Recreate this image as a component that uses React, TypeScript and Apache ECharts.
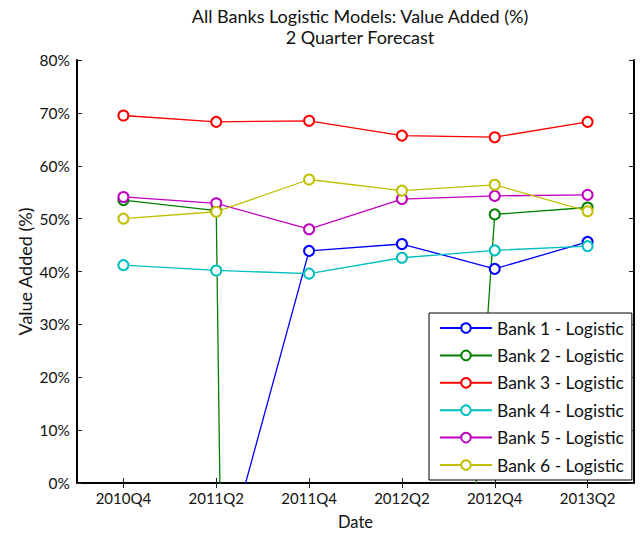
import React, { useEffect, useRef } from "react";
import * as echarts from "echarts";

const categories = ["2010Q4", "2011Q2", "2011Q4", "2012Q2", "2012Q4", "2013Q2"];

const bank1 = [null, -20.3, 43.9, 45.2, 40.5, 45.6];
const bank2 = [53.5, 51.5, -1270, -203, 50.8, 52.1];
const bank3 = [69.5, 68.3, 68.5, 65.7, 65.4, 68.3];
const bank4 = [41.2, 40.2, 39.6, 42.6, 44.0, 44.8];
const bank5 = [54.1, 52.9, 48.0, 53.7, 54.3, 54.5];
const bank6 = [50.0, 51.3, 57.4, 55.3, 56.4, 51.4];

const seriesNames = [
  "Bank 1 - Logistic",
  "Bank 2 - Logistic",
  "Bank 3 - Logistic",
  "Bank 4 - Logistic",
  "Bank 5 - Logistic",
  "Bank 6 - Logistic",
];
const seriesData = [bank1, bank2, bank3, bank4, bank5, bank6];
const colors = ["#0000ff", "#008000", "#ff0000", "#00bfbf", "#bf00bf", "#bfbf00"];

const FONT = "Lato";

export default function App() {
  const ref = useRef<HTMLDivElement>(null);
  useEffect(() => {
    if (!ref.current) return;
    const chart = echarts.init(ref.current, null, { renderer: "svg" });
    const axisLine = { show: true, lineStyle: { color: "#000", width: 2 } };
    const tick = { show: true, inside: true, length: 5, lineStyle: { color: "#222", width: 1 } };
    chart.setOption({
      animation: false,
      backgroundColor: "#fff",
      title: {
        text: "All Banks Logistic Models: Value Added (%)\n2 Quarter Forecast",
        left: 355,
        top: 0,
        textAlign: "center",
        textStyle: { fontFamily: FONT, fontSize: 18, fontWeight: "normal", color: "#111", lineHeight: 21 },
      },
      grid: { left: 77, right: 7, top: 60, bottom: 52, containLabel: false },
      legend: {
        orient: "vertical",
        left: 429,
        top: 313,
        data: seriesNames,
        backgroundColor: "#fff",
        borderColor: "#000",
        borderWidth: 1,
        padding: [6, 8, 6, 10],
        itemWidth: 52,
        itemHeight: 12,
        itemGap: 9.4,
        textStyle: { fontFamily: FONT, fontSize: 17.5, lineHeight: 18, color: "#111" },
      },
      xAxis: [
        {
          type: "category",
          data: categories,
          boundaryGap: true,
          position: "bottom",
          axisLine,
          axisTick: { ...tick, alignWithLabel: true },
          axisLabel: { fontFamily: FONT, fontSize: 15, color: "#111", margin: 7 },
          splitLine: { show: false },
          name: "Date",
          nameLocation: "middle",
          nameGap: 30,
          nameTextStyle: { fontFamily: FONT, fontSize: 16.5, color: "#111" },
        },
        {
          type: "category",
          data: categories,
          boundaryGap: true,
          position: "top",
          axisLine: { show: true, lineStyle: { color: "#000", width: 1 } },
          axisTick: { ...tick, alignWithLabel: true },
          axisLabel: { show: false },
          splitLine: { show: false },
        },
      ],
      yAxis: [
        {
          type: "value",
          min: 0,
          max: 80,
          interval: 10,
          position: "left",
          axisLine,
          axisTick: tick,
          axisLabel: {
            fontFamily: FONT,
            fontSize: 15.5,
            color: "#111",
            margin: 7,
            formatter: (v: number) => `${v}%`,
          },
          splitLine: { show: false },
          name: "Value Added (%)",
          nameLocation: "middle",
          nameGap: 43,
          nameMoveOverlap: false,
          nameTextStyle: { fontFamily: FONT, fontSize: 18, color: "#111" },
        },
        {
          type: "value",
          min: 0,
          max: 80,
          interval: 10,
          position: "right",
          axisLine,
          axisTick: tick,
          axisLabel: { show: false },
          splitLine: { show: false },
        },
      ],
      series: seriesData.map((d, i) => ({
        name: seriesNames[i],
        type: "line",
        data: d,
        xAxisIndex: 0,
        yAxisIndex: 0,
        clip: true,
        symbol: "emptyCircle",
        symbolSize: 10,
        connectNulls: false,
        color: colors[i],
        lineStyle: { color: colors[i], width: 1.3 },
        itemStyle: { color: colors[i], borderColor: colors[i], borderWidth: 1 },
      })),
    });
    return () => chart.dispose();
  }, []);
  return (
    <div
      ref={ref}
      style={{ position: "fixed", left: 0, top: 0, width: 641, height: 535 }}
    />
  );
}
